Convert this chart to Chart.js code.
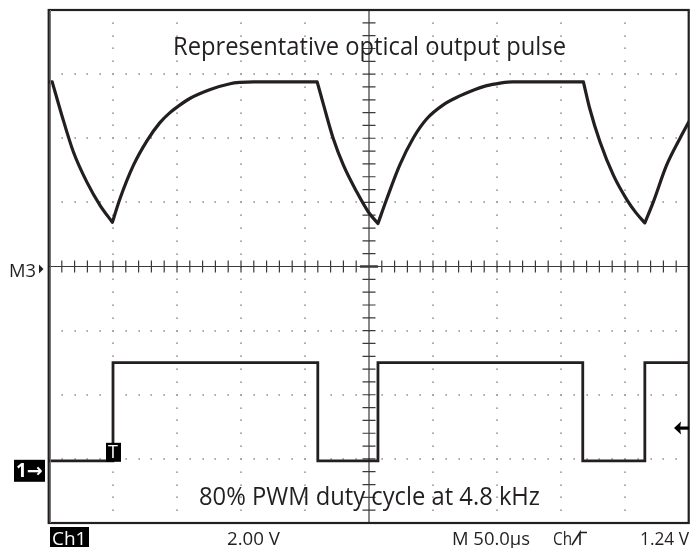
<!DOCTYPE html>
<html>
<head>
<meta charset="utf-8">
<script src="https://cdn.jsdelivr.net/npm/chart.js@4/dist/chart.umd.min.js"></script>
<style>
html,body{margin:0;padding:0;background:#fff;}
canvas{display:block;}
</style>
</head>
<body>
<canvas id="c" width="691" height="548"></canvas>
<script>
// ---- data (time in µs, level in screen divisions; null = break between trace pieces)
const opticalTime = [
  0, 2.5, 2.5,
  2.5, 10, 19, 29.5, 40, 49.5, 49.5,
  49.5, 55.5, 66, 76.5, 86.5, 94.5, 101, 110, 126, 141.5, 149, 160, 209.5, 209.5,
  209.5, 214.5, 222, 230, 240.5, 249.5, 257, 257,
  257, 264, 274, 284.5, 295, 308, 321, 329, 342, 352.5, 362, 417.5, 417.5,
  417.5, 422.5, 430.5, 441, 451.5, 458.5, 465.5, 465.5,
  465.5, 472, 482.5, 493, 500
];
const opticalLevel = [
  2.88, 2.88, null,
  2.88, 2.36, 1.79, 1.32, 0.95, 0.69, null,
  0.69, 1.06, 1.58, 1.96, 2.24, 2.40, 2.50, 2.62, 2.76, 2.85, 2.87, 2.88, 2.88, null,
  2.88, 2.52, 2.0, 1.58, 1.16, 0.85, 0.67, null,
  0.67, 1.06, 1.58, 2.0, 2.30, 2.52, 2.66, 2.73, 2.82, 2.86, 2.88, 2.88, null,
  2.88, 2.46, 1.94, 1.42, 1.04, 0.84, 0.68, null,
  0.68, 1.0, 1.58, 2.0, 2.26
];
const pwmTime  = [0, 50, 50, 210, 210, 257, 257, 417, 417, 465.5, 465.5, 500];
const pwmLevel = [-3.03, -3.03, -1.5, -1.5, -3.03, -3.03, -1.5, -1.5, -3.03, -3.03, -1.5, -1.5];

const titleText   = 'Representative optical output pulse';
const captionText = '80% PWM duty cycle at 4.8 kHz';
const readoutCh   = 'Ch1';
const readoutVolt = '2.00 V';
const readoutTime = 'M 50.0µs';
const readoutTrig = 'Ch';
const readoutLevel = '1.24 V';
const mathLabel   = 'M3';
const ch1Label    = '1→';
const trigLabel   = 'T';
const trigLevel   = -2.52;   // trigger level arrow position (div)

const divTime = 50;   // µs per division
const hDivs = 10, vDivs = 8, minorPerDiv = 5;

const FONT = '"Open Sans","DejaVu Sans",sans-serif';
const INK = '#231f20';

const toPoints = (xs, ys) => xs.map((t, i) => ({x: t, y: ys[i]}));

const scopePlugin = {
  id: 'scope',
  beforeDraw(chart) {
    const ctx = chart.ctx;
    ctx.save();
    ctx.fillStyle = '#fff';
    ctx.fillRect(0, 0, chart.width, chart.height);
    ctx.restore();
  },
  beforeDatasetsDraw(chart) {
    const {ctx, chartArea: a, scales: {x, y}} = chart;
    ctx.save();
    // dotted graticule
    ctx.fillStyle = '#999999';
    for (let d = 1; d < hDivs; d++) {
      if (d === hDivs / 2) continue;
      const px = x.getPixelForValue(d * divTime);
      for (let m = 1; m < vDivs * minorPerDiv; m++) {
        const py = y.getPixelForValue(vDivs / 2 - m / minorPerDiv);
        ctx.fillRect(Math.round(px) - 1, Math.round(py) - 0.5, 2, 1.3);
      }
    }
    for (let d = 1; d < vDivs; d++) {
      if (d === vDivs / 2) continue;
      const py = y.getPixelForValue(vDivs / 2 - d);
      for (let m = 1; m < hDivs * minorPerDiv; m++) {
        const px = x.getPixelForValue(m * divTime / minorPerDiv);
        ctx.fillRect(Math.round(px) - 0.5, Math.round(py) - 1, 1.3, 2);
      }
    }
    // centre axes with minor ticks
    const x0 = x.getPixelForValue(hDivs / 2 * divTime);
    const y0 = y.getPixelForValue(0);
    ctx.strokeStyle = '#3a3a3a';
    ctx.lineWidth = 1.2;
    ctx.beginPath();
    ctx.moveTo(a.left, y0); ctx.lineTo(a.right, y0);
    ctx.moveTo(x0, a.top); ctx.lineTo(x0, a.bottom);
    for (let m = 1; m < hDivs * minorPerDiv; m++) {
      const px = x.getPixelForValue(m * divTime / minorPerDiv);
      ctx.moveTo(px, y0 - 6); ctx.lineTo(px, y0 + 6);
    }
    for (let m = 1; m < vDivs * minorPerDiv; m++) {
      const py = y.getPixelForValue(vDivs / 2 - m / minorPerDiv);
      ctx.moveTo(x0 - 6.5, py); ctx.lineTo(x0 + 6.5, py);
    }
    ctx.stroke();
    ctx.lineWidth = 2.5;
    ctx.beginPath();
    ctx.moveTo(x0 - 9, y0); ctx.lineTo(x0 + 9, y0);
    ctx.stroke();
    ctx.restore();
  },
  afterDraw(chart) {
    const {ctx, chartArea: a, scales: {x, y}} = chart;
    ctx.save();
    // frame
    ctx.strokeStyle = INK;
    ctx.lineWidth = 2.2;
    ctx.strokeRect(a.left - 0.3, a.top, a.right - a.left, a.bottom - a.top);
    ctx.lineWidth = 1;
    ctx.strokeStyle = '#777';
    ctx.beginPath(); ctx.moveTo(a.left + 1.5, a.top); ctx.lineTo(a.left + 1.5, a.bottom); ctx.stroke();

    ctx.textBaseline = 'alphabetic';
    ctx.textAlign = 'left';
    ctx.fillStyle = INK;
    // title & caption
    ctx.font = '25px ' + FONT;
    ctx.fillText(titleText, 173, 55, 393);
    ctx.fillText(captionText, 199, 505, 341);

    // readout row
    ctx.font = '19px ' + FONT;
    ctx.fillStyle = '#000';
    ctx.fillRect(a.left + 1, a.bottom + 4, 39, 20);
    ctx.fillStyle = '#fff';
    ctx.fillText(readoutCh, a.left + 3, 545, 35);
    ctx.fillStyle = INK;
    ctx.fillText(readoutVolt, 227, 545, 53);
    ctx.fillText(readoutTime, 452, 545, 78);
    ctx.fillText(readoutTrig, 553, 545, 19);
    ctx.fillText(readoutLevel, 640, 545, 49);
    // trigger slope symbol
    ctx.strokeStyle = INK;
    ctx.lineWidth = 1.6;
    ctx.beginPath();
    ctx.moveTo(572, 545); ctx.lineTo(580, 532.5); ctx.lineTo(580, 545);
    ctx.moveTo(580, 532.5); ctx.lineTo(587, 532.5);
    ctx.stroke();

    // M3 marker on centre axis
    const y0 = y.getPixelForValue(0);
    ctx.fillText(mathLabel, 9, y0 + 10.5, 27);
    ctx.beginPath();
    ctx.moveTo(39, y0 - 2); ctx.lineTo(43.5, y0 + 2.5); ctx.lineTo(39, y0 + 7); ctx.closePath();
    ctx.fill();

    // channel 1 ground marker
    const yLow = y.getPixelForValue(pwmLevel[0]);
    ctx.fillStyle = '#000';
    ctx.fillRect(14, yLow - 1, 31, 22);
    ctx.fillStyle = '#fff';
    ctx.font = 'bold 19px ' + FONT;
    ctx.fillText(ch1Label, 16, yLow + 16.5, 28);

    // trigger position marker
    const xT = x.getPixelForValue(pwmTime[1]);
    ctx.fillStyle = '#000';
    ctx.fillRect(xT - 7, yLow - 18, 15, 19);
    ctx.fillStyle = '#fff';
    ctx.font = '18px ' + FONT;
    ctx.fillText(trigLabel, xT - 5, yLow - 2.5, 12);

    // trigger level arrow (right edge)
    const yTrig = y.getPixelForValue(trigLevel);
    ctx.fillStyle = '#000';
    ctx.fillRect(679, yTrig - 1.6, 10, 3.2);
    ctx.beginPath();
    ctx.moveTo(674, yTrig);
    ctx.lineTo(681, yTrig - 6.5);
    ctx.lineTo(680, yTrig);
    ctx.lineTo(681, yTrig + 6.5);
    ctx.closePath();
    ctx.fill();
    ctx.restore();
  }
};

new Chart(document.getElementById('c'), {
  type: 'line',
  data: {
    datasets: [
      {
        label: 'Optical output',
        data: toPoints(opticalTime, opticalLevel),
        borderColor: INK,
        borderWidth: 3.2,
        pointRadius: 0,
        cubicInterpolationMode: 'monotone',
        borderCapStyle: 'round',
        borderJoinStyle: 'round',
        spanGaps: false,
        fill: false
      },
      {
        label: 'PWM drive',
        data: toPoints(pwmTime, pwmLevel),
        borderColor: INK,
        borderWidth: 2.8,
        pointRadius: 0,
        tension: 0,
        borderJoinStyle: 'miter',
        fill: false
      }
    ]
  },
  options: {
    responsive: false,
    devicePixelRatio: 1,
    animation: false,
    layout: {padding: {left: 49, right: 2, top: 10, bottom: 25}},
    plugins: {legend: {display: false}, tooltip: {enabled: false}},
    scales: {
      x: {type: 'linear', min: 0, max: hDivs * divTime, display: false},
      y: {type: 'linear', min: -vDivs / 2, max: vDivs / 2, display: false}
    }
  },
  plugins: [scopePlugin]
});
</script>
</body>
</html>
